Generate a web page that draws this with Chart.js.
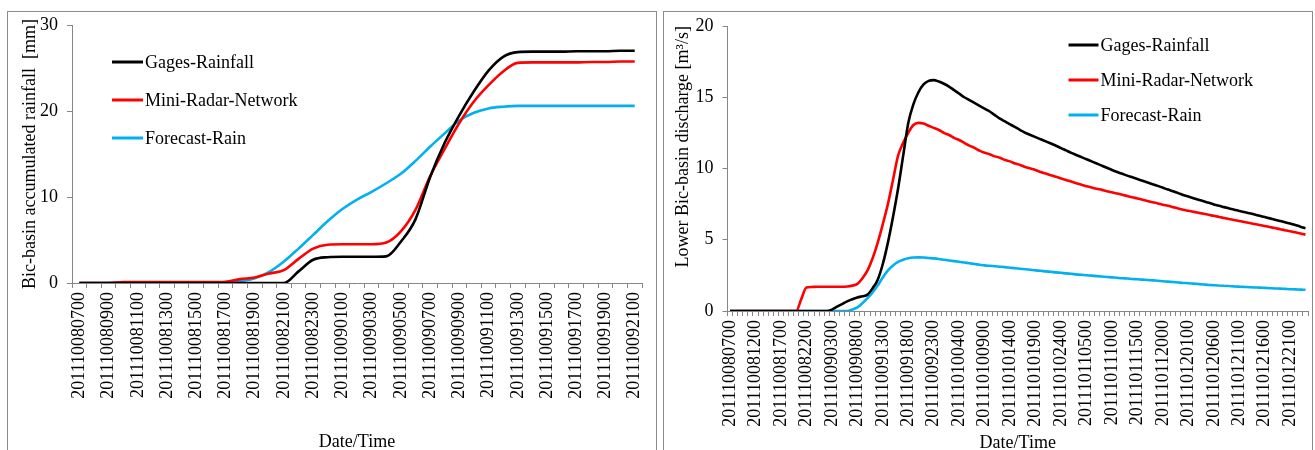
<!DOCTYPE html>
<html>
<head>
<meta charset="utf-8">
<script src="https://cdn.jsdelivr.net/npm/chart.js@4.4.1/dist/chart.umd.min.js"></script>
<style>
html,body{margin:0;padding:0;background:#fff;width:1315px;height:450px;overflow:hidden}
.panel{position:absolute;border:1px solid #8c8c8c;background:#fff;overflow:hidden}
#p1{left:7px;top:11px;width:648px;height:470px}
#p2{left:663px;top:11px;width:648px;height:470px}
canvas{display:block}
</style>
</head>
<body>
<div class="panel" id="p1"><canvas id="c1" width="648" height="460"></canvas></div>
<div class="panel" id="p2"><canvas id="c2" width="648" height="460"></canvas></div>
<script>
// ============ DATA: LEFT (accumulated rainfall) ============
const timesL = [
  '201110080700','201110080800','201110080900','201110081000','201110081100','201110081200',
  '201110081300','201110081400','201110081500','201110081600','201110081700','201110081800',
  '201110081900','201110082000','201110082100','201110082200','201110082300','201110082400',
  '201110090100','201110090200','201110090300','201110090400','201110090500','201110090600',
  '201110090700','201110090800','201110090900','201110091000','201110091100','201110091200',
  '201110091300','201110091400','201110091500','201110091600','201110091700','201110091800',
  '201110091900','201110092000','201110092100'
];
const gagesL = [0,0,0,0,0,0,0,0,0,0, 0,0,0,0,0,1.35,2.7,3.0,3.05,3.05,
  3.05,3.1,4.8,7.4,12.3,16.3,19.5,22.3,24.7,26.3, 26.85,26.9,26.9,26.9,26.95,26.95,26.95,27.0,27.0];
const radarL = [0,0,0,0.1,0.1,0.1,0.1,0.1,0.1,0.1, 0.15,0.45,0.65,1.1,1.5,2.8,4.0,4.45,4.5,4.5,
  4.5,4.7,6.0,8.5,12.4,15.6,18.6,21.1,23.0,24.6, 25.6,25.65,25.65,25.65,25.65,25.7,25.7,25.75,25.75];
const forecastL = [0,0,0,0,0,0,0,0,0,0, 0,0.2,0.55,1.3,2.5,4.0,5.6,7.2,8.6,9.7,
  10.6,11.6,12.7,14.2,15.85,17.4,18.9,19.8,20.3,20.5, 20.6,20.6,20.6,20.6,20.6,20.6,20.6,20.6,20.6];

// ============ DATA: RIGHT (discharge) ============
const timesR = [
  '201110080700','201110080800','201110080900','201110081000','201110081100','201110081200',
  '201110081300','201110081400','201110081500','201110081600','201110081700','201110081800',
  '201110081900','201110082000','201110082100','201110082200','201110082300','201110082400',
  '201110090100','201110090200','201110090300','201110090400','201110090500','201110090600',
  '201110090700','201110090800','201110090900','201110091000','201110091100','201110091200',
  '201110091300','201110091400','201110091500','201110091600','201110091700','201110091800',
  '201110091900','201110092000','201110092100','201110092200','201110092300','201110092400',
  '201110100100','201110100200','201110100300','201110100400','201110100500','201110100600',
  '201110100700','201110100800','201110100900','201110101000','201110101100','201110101200',
  '201110101300','201110101400','201110101500','201110101600','201110101700','201110101800',
  '201110101900','201110102000','201110102100','201110102200','201110102300','201110102400',
  '201110110100','201110110200','201110110300','201110110400','201110110500','201110110600',
  '201110110700','201110110800','201110110900','201110111000','201110111100','201110111200',
  '201110111300','201110111400','201110111500','201110111600','201110111700','201110111800',
  '201110111900','201110112000','201110112100','201110112200','201110112300','201110112400',
  '201110120100','201110120200','201110120300','201110120400','201110120500','201110120600',
  '201110120700','201110120800','201110120900','201110121000','201110121100','201110121200',
  '201110121300','201110121400','201110121500','201110121600','201110121700','201110121800',
  '201110121900','201110122000','201110122100','201110122200','201110122300','201110122400'
];
const gagesR = [0,0,0,0,0,0,0,0,0,0, 0,0,0,0,0,0,0,0,0,0,
  0.1,0.3,0.48,0.68,0.83,0.95,1.03,1.15,1.6,2.2,
  3.3,4.8,6.6,8.6,10.9,13.2,14.5,15.35,15.9,16.15,
  16.2,16.1,15.95,15.75,15.5,15.25,15.0,14.8,14.6,14.4,
  14.2,14.0,13.75,13.5,13.3,13.1,12.9,12.7,12.5,12.35,
  12.2,12.05,11.9,11.75,11.6,11.43,11.27,11.1,10.95,10.8,
  10.65,10.5,10.35,10.2,10.05,9.9,9.76,9.63,9.5,9.38,
  9.26,9.14,9.02,8.9,8.78,8.65,8.52,8.4,8.27,8.14,
  8.03,7.92,7.81,7.7,7.6,7.48,7.38,7.29,7.2,7.11,
  7.02,6.94,6.86,6.77,6.68,6.59,6.5,6.41,6.32,6.23,
  6.14,6.03,5.92,5.8];
const radarR = [0,0,0,0,0,0,0,0,0,0, 0,0,0,0,0.85,1.65,1.68,1.7,1.7,1.7,
  1.7,1.7,1.7,1.72,1.78,1.9,2.3,2.85,3.7,4.8,
  6.1,7.5,9.2,10.9,11.8,12.5,13.05,13.2,13.15,13.0,
  12.85,12.7,12.5,12.35,12.15,12.0,11.8,11.6,11.45,11.25,
  11.1,11.0,10.85,10.75,10.6,10.5,10.35,10.25,10.1,10.0,
  9.9,9.75,9.65,9.53,9.42,9.3,9.2,9.08,8.97,8.86,
  8.76,8.67,8.58,8.5,8.41,8.33,8.25,8.16,8.07,7.98,
  7.9,7.81,7.72,7.63,7.55,7.46,7.38,7.29,7.2,7.1,
  7.03,6.96,6.89,6.82,6.75,6.68,6.6,6.53,6.46,6.39,
  6.32,6.25,6.17,6.1,6.03,5.96,5.89,5.82,5.74,5.67,
  5.6,5.52,5.44,5.36];
const forecastR = [0,0,0,0,0,0,0,0,0,0, 0,0,0,0,0,0,0,0,0,0,
  0,0,0,0,0.1,0.25,0.55,0.9,1.3,1.8,
  2.35,2.85,3.2,3.45,3.6,3.7,3.75,3.76,3.75,3.72,
  3.69,3.65,3.6,3.55,3.5,3.45,3.4,3.35,3.3,3.25,
  3.2,3.17,3.14,3.11,3.08,3.04,3.0,2.97,2.93,2.89,
  2.85,2.82,2.78,2.75,2.71,2.68,2.64,2.61,2.57,2.54,
  2.51,2.48,2.45,2.42,2.39,2.36,2.33,2.3,2.28,2.25,
  2.23,2.2,2.18,2.15,2.12,2.09,2.06,2.03,2.0,1.97,
  1.95,1.92,1.89,1.86,1.83,1.81,1.79,1.77,1.75,1.73,
  1.71,1.69,1.67,1.65,1.64,1.62,1.6,1.58,1.57,1.55,
  1.53,1.52,1.5,1.49];

const seriesNames = ['Gages-Rainfall','Mini-Radar-Network','Forecast-Rain'];
const seriesColors = ['#000000','#ff0000','#00b0f0'];

// ============ STYLE ============
const FONT = '"Liberation Serif", "Times New Roman", serif';
const AXIS = '#868686';
Chart.defaults.font.family = FONT;
Chart.defaults.font.size = 18;
Chart.defaults.color = '#000';

// legend drawn inside the plot area, Excel style
const inLegend = {
  id: 'inLegend',
  afterDraw(chart, args, o) {
    const {ctx, chartArea} = chart;
    ctx.save();
    ctx.font = '18px ' + FONT;
    ctx.textBaseline = 'middle';
    chart.data.datasets.forEach((ds, i) => {
      const x = chartArea.left + o.left;
      const y = chartArea.top + o.top + i * o.gap;
      ctx.strokeStyle = ds.borderColor;
      ctx.lineWidth = 3;
      ctx.beginPath(); ctx.moveTo(x, y); ctx.lineTo(x + o.len, y); ctx.stroke();
      ctx.fillStyle = '#000';
      ctx.fillText(ds.label, x + o.len + 2, y + 1);
    });
    ctx.restore();
  }
};

function makeSets(arrs) {
  return arrs.map((d, i) => ({
    label: seriesNames[i], data: d, borderColor: seriesColors[i],
    borderWidth: 2.6, pointRadius: 0, cubicInterpolationMode: 'monotone', fill: false
  }));
}

function build(id, labels, sets, cfg) {
  new Chart(document.getElementById(id), {
    type: 'line',
    data: {labels, datasets: makeSets(sets)},
    plugins: [inLegend],
    options: {
      responsive: false, animation: false,
      layout: {padding: {top: cfg.padTop, right: cfg.padRight, left: 0, bottom: 0}},
      plugins: {legend: {display: false}, tooltip: {enabled: false}, inLegend: cfg.legend},
      scales: {
        x: {
          offset: true,
          grid: {offset: true, drawOnChartArea: false, tickLength: 5, color: AXIS},
          border: {color: AXIS},
          ticks: {
            autoSkip: false, minRotation: 90, maxRotation: 90, padding: 4,
            callback(v, i) { return i % cfg.every === 0 ? this.getLabelForValue(v) : ''; }
          },
          title: {display: true, text: 'Date/Time', padding: {top: 0, bottom: cfg.xTitlePad}},
          afterFit(s) { s.height = cfg.xHeight; s.paddingLeft = 0; s.paddingRight = 0; }
        },
        y: {
          min: 0, max: cfg.yMax,
          grid: {drawOnChartArea: false, tickLength: 5, color: AXIS},
          border: {color: AXIS},
          ticks: {stepSize: cfg.yStep, padding: 9},
          title: {display: true, text: cfg.yTitle, align: cfg.yAlign, padding: {top: cfg.yTitlePad, bottom: 0}},
          afterFit(s) { s.width = cfg.yWidth; s.paddingTop = 0; s.paddingBottom = 0; }
        }
      }
    }
  });
}

build('c1', timesL, [gagesL, radarL, forecastL], {
  padTop: 13, padRight: 14, xHeight: 189, xTitlePad: 19, every: 2,
  yMax: 30, yStep: 10, yWidth: 64, yTitlePad: 11, yAlign: 'center',
  yTitle: 'Bic-basin accumulated rainfall  [mm]',
  legend: {left: 40, top: 37, gap: 38, len: 31}
});

build('c2', timesR, [gagesR, radarR, forecastR], {
  padTop: 14, padRight: 4, xHeight: 161, xTitlePad: 18, every: 5,
  yMax: 20, yStep: 5, yWidth: 63.5, yTitlePad: 8, yAlign: 'end',
  yTitle: 'Lower Bic-basin discharge [m\u00b3/s]',
  legend: {left: 341, top: 19, gap: 35, len: 30}
});
</script>
</body>
</html>
